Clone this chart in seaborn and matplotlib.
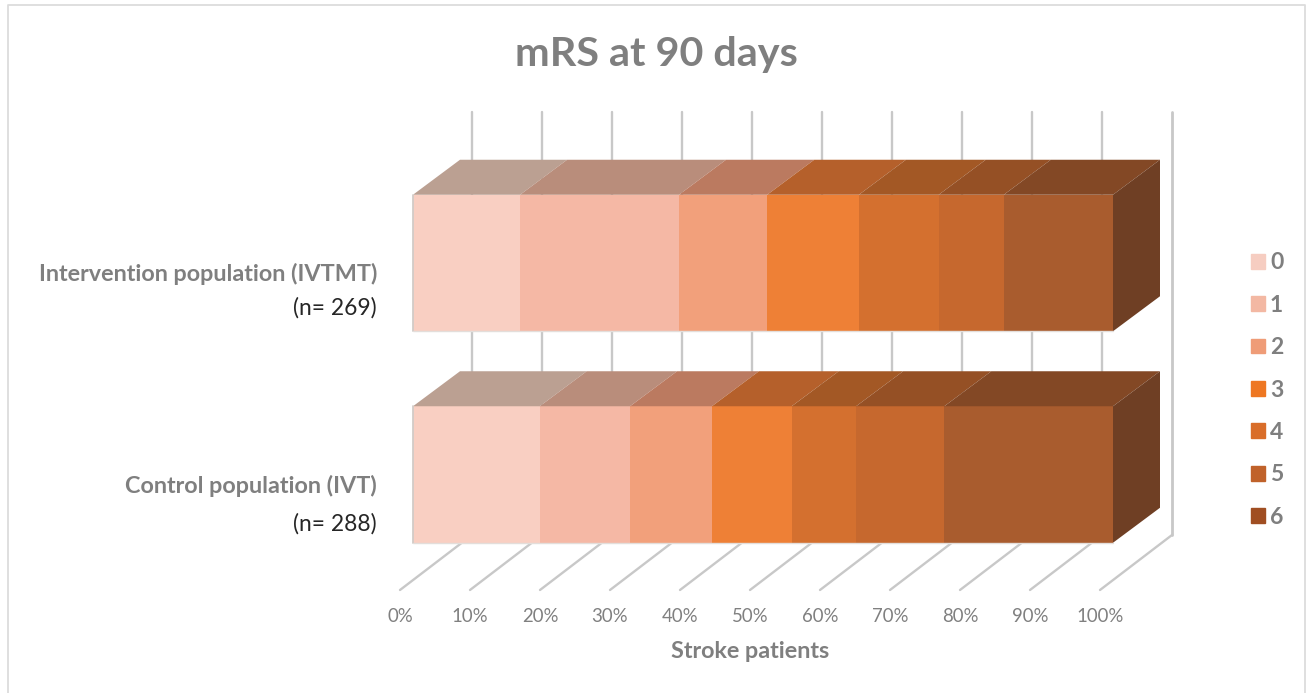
import numpy as np
import pandas as pd
import matplotlib
matplotlib.use("Agg")
import matplotlib.pyplot as plt
from matplotlib.lines import Line2D
from matplotlib.patches import Patch
import seaborn as sns

groups = ["Intervention population (IVTMT)", "Control population (IVT)"]
group_n = ["(n= 269)", "(n= 288)"]
mrs_scores = ["0", "1", "2", "3", "4", "5", "6"]
intervention = [15.3, 22.7, 12.6, 13.1, 11.4, 9.3, 15.6]
control = [18.1, 12.9, 11.7, 11.4, 9.2, 12.6, 24.1]
x_ticks = [0, 10, 20, 30, 40, 50, 60, 70, 80, 90, 100]

front_colors = ["#f9cfc2", "#f5b8a5", "#f2a07b", "#ee8036", "#d4702f", "#c6682e", "#a95c2e"]
top_colors = ["#bba092", "#b98d7b", "#bb7a60", "#b5602b", "#a35825", "#955025", "#834825"]
legend_colors = ["#f6cdc1", "#f3b8a3", "#ef9c77", "#ee7722", "#d96d29", "#c0622a", "#a04e22"]
side_color = "#6f3f24"
grid_color = "#c8c8c8"
text_grey = "#7f7f7f"

W, H = 1314, 693
px_x = 7.0      # pixels per percent
px_y = 211.5    # pixels per category step
bar_h = 136.5 / px_y
depth_x = 47 / px_x
depth_y = -35 / px_y

sns.set_style("white")
plt.rcParams["font.family"] = ["Lato", "DejaVu Sans"]

df = pd.DataFrame({"group": np.repeat(groups, len(mrs_scores)),
                   "mRS": mrs_scores * 2,
                   "share": intervention + control})
df["end"] = df.groupby("group", sort=False)["share"].cumsum()
df["start"] = df["end"] - df["share"]

fig = plt.figure(figsize=(W / 100, H / 100), dpi=100)
ax = fig.add_axes([0, 0, 1, 1])

# longest cumulative first so the shorter ones sit on top
for i in reversed(range(len(mrs_scores))):
    part = df[df["mRS"] == mrs_scores[i]]
    sns.barplot(data=part, x="end", y="group", order=groups, color=front_colors[i],
                saturation=1, width=bar_h, linewidth=0, zorder=3, ax=ax)

ax.set_xlim(-413 / px_x, (W - 413) / px_x)
ax.set_ylim((H - 263) / px_y, -263 / px_y)
ax.axis("off")

# 3d faces
for row, g in enumerate(groups):
    top = row - bar_h / 2
    bottom = row + bar_h / 2
    part = df[df["group"] == g]
    for i, (_, r) in enumerate(part.iterrows()):
        ax.fill([r["start"], r["end"], r["end"] + depth_x, r["start"] + depth_x],
                [top, top, top + depth_y, top + depth_y],
                color=top_colors[i], lw=0, zorder=3)
    ax.fill([100, 100 + depth_x, 100 + depth_x, 100],
            [top, top + depth_y, bottom + depth_y, bottom],
            color=side_color, lw=0, zorder=3)
    ax.plot([0, 0], [top, bottom], color="#d2cbc7", lw=1.3, zorder=4)
    ax.plot([0, 100], [bottom, bottom], color="#e3dedb", lw=1.0, zorder=4)

# walls and floor
wall_dx = 59 / px_x
floor_dx = -13 / px_x
wall_top = (112 - 263) / px_y
wall_bottom = (535 - 263) / px_y
floor_front = (590 - 263) / px_y
for t in x_ticks:
    ax.plot([t + wall_dx, t + wall_dx], [wall_top, wall_bottom], color=grid_color,
            lw=2.0 if t == 100 else 1.7, zorder=1)
    ax.plot([t + floor_dx, t + wall_dx], [floor_front, wall_bottom], color=grid_color, lw=1.7, zorder=1)
    ax.text(t + floor_dx, (616 - 263) / px_y, f"{t}%", ha="center", va="center",
            fontsize=13.4, color="#808080")

for row, g in enumerate(groups):
    ax.text(-36 / px_x, row + 11 / px_y, g, ha="right", va="center",
            fontsize=16.85, fontweight="bold", color=text_grey)
    ax.text(-36 / px_x, row + (45 if row == 0 else 49) / px_y, group_n[row], ha="right", va="center",
            fontsize=16.4, color="#262626")

ax.text(656.5 / W, 1 - 54.5 / H, "mRS at 90 days", transform=ax.transAxes, ha="center", va="center",
        fontsize=29.8, fontweight="bold", color=text_grey)
ax.text(750 / W, 1 - 651 / H, "Stroke patients", transform=ax.transAxes, ha="center", va="center",
        fontsize=16.85, fontweight="bold", color=text_grey)

handles = [Patch(color=c, label=s) for c, s in zip(legend_colors, mrs_scores)]
leg = ax.legend(handles=handles, loc="center left", bbox_to_anchor=(1251 / W, 1 - 390 / H),
                frameon=False, fontsize=16.5, handlelength=0.61, handleheight=0.61,
                handletextpad=0.22, labelspacing=0.933, borderpad=0, borderaxespad=0)
for txt in leg.get_texts():
    txt.set_fontweight("bold")
    txt.set_color(text_grey)

# chart frame
fig.add_artist(Line2D([8 / W, 8 / W, 1305 / W, 1305 / W], [0, 1 - 5 / H, 1 - 5 / H, 0],
                      color="#dcdcdc", lw=1.3))

fig.savefig("out.png", dpi=100)
